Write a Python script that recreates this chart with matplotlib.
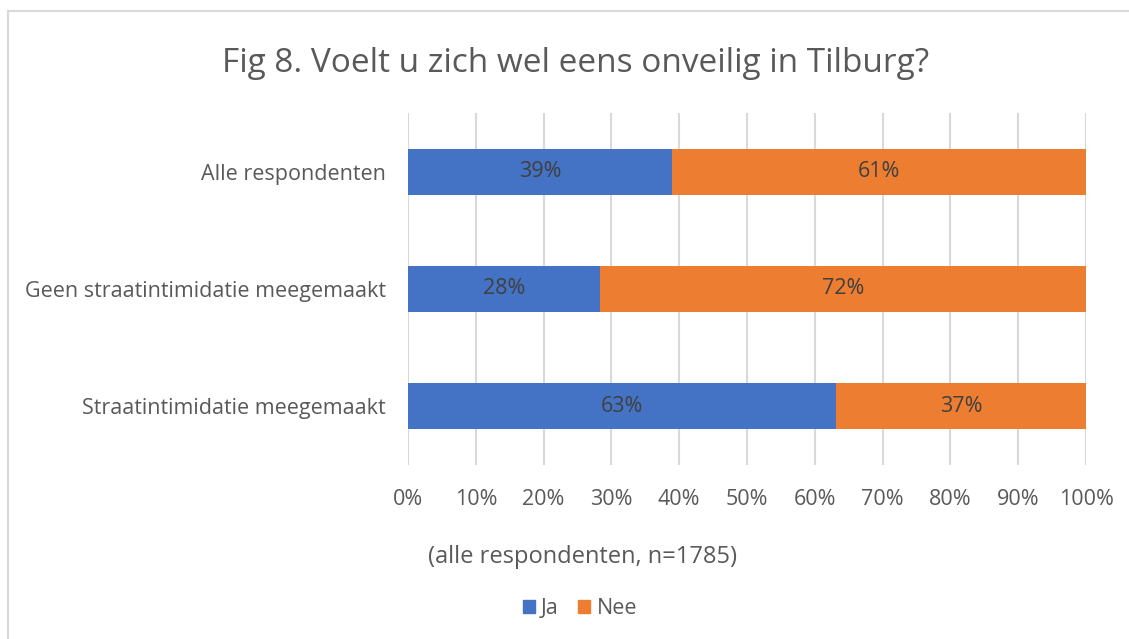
import matplotlib
matplotlib.use("Agg")
import matplotlib.pyplot as plt
from matplotlib.patches import Patch
from matplotlib.lines import Line2D

categories = ["Alle respondenten", "Geen straatintimidatie meegemaakt", "Straatintimidatie meegemaakt"]
ja = [38.9, 28.3, 63.1]
nee = [61.1, 71.7, 36.9]
ja_labels = ["39%", "28%", "63%"]
nee_labels = ["61%", "72%", "37%"]
xticks = [0, 10, 20, 30, 40, 50, 60, 70, 80, 90, 100]

plt.rcParams['font.family'] = ['Open Sans', 'DejaVu Sans']
W, H = 1129, 639
fig = plt.figure(figsize=(W/100, H/100), dpi=100)
fig.patch.set_facecolor('white')

ax = fig.add_axes([408/W, 1-465/H, (1086-408)/W, (465-113)/H])
blue = '#4472C4'
orange = '#ED7D31'
ypos = list(range(len(categories)))
ax.barh(ypos, ja, height=0.39, color=blue, label='Ja', zorder=3)
ax.barh(ypos, nee, left=ja, height=0.39, color=orange, label='Nee', zorder=3)
for i in ypos:
    ax.text(ja[i]/2, i, ja_labels[i], ha='center', va='center', fontsize=15.5, color='#404040', zorder=4)
    ax.text(ja[i] + nee[i]/2, i, nee_labels[i], ha='center', va='center', fontsize=15.5, color='#404040', zorder=4)

ax.set_xlim(0, 100)
ax.set_ylim(2.5, -0.5)
ax.set_xticks(xticks)
ax.set_xticklabels([f"{t}%" for t in xticks], fontsize=15.5, color='#595959')
ax.set_yticks(ypos)
ax.set_yticklabels(categories, fontsize=15.5, color='#595959')
ax.tick_params(axis='y', length=0, pad=16)
ax.tick_params(axis='x', length=0, pad=17)
ax.grid(axis='x', color='#D9D9D9', linewidth=1.5, zorder=0)
for s in ax.spines.values():
    s.set_visible(False)

fig.text(576/W, 1-63/H, "Fig 8. Voelt u zich wel eens onveilig in Tilburg?", ha='center', va='center',
         fontsize=24, color='#595959')
fig.text(583/W, 1-557/H, "(alle respondenten, n=1785)", ha='center', va='center', fontsize=17, color='#595959')

handles = [Patch(color=blue, label='Ja'), Patch(color=orange, label='Nee')]
fig.legend(handles=handles, loc='center', bbox_to_anchor=(580/W, 1-609/H), ncol=2, frameon=False,
           fontsize=15.5, handlelength=0.55, handleheight=0.55, handletextpad=0.3, columnspacing=0.9,
           labelcolor='#595959')

# chart border
fig.add_artist(Line2D([8/W, 8/W], [0, 1-11/H], transform=fig.transFigure, color='#D9D9D9', linewidth=1.5))
fig.add_artist(Line2D([8/W, 1], [1-11/H, 1-11/H], transform=fig.transFigure, color='#D9D9D9', linewidth=1.5))

fig.savefig('out.png', dpi=100)
